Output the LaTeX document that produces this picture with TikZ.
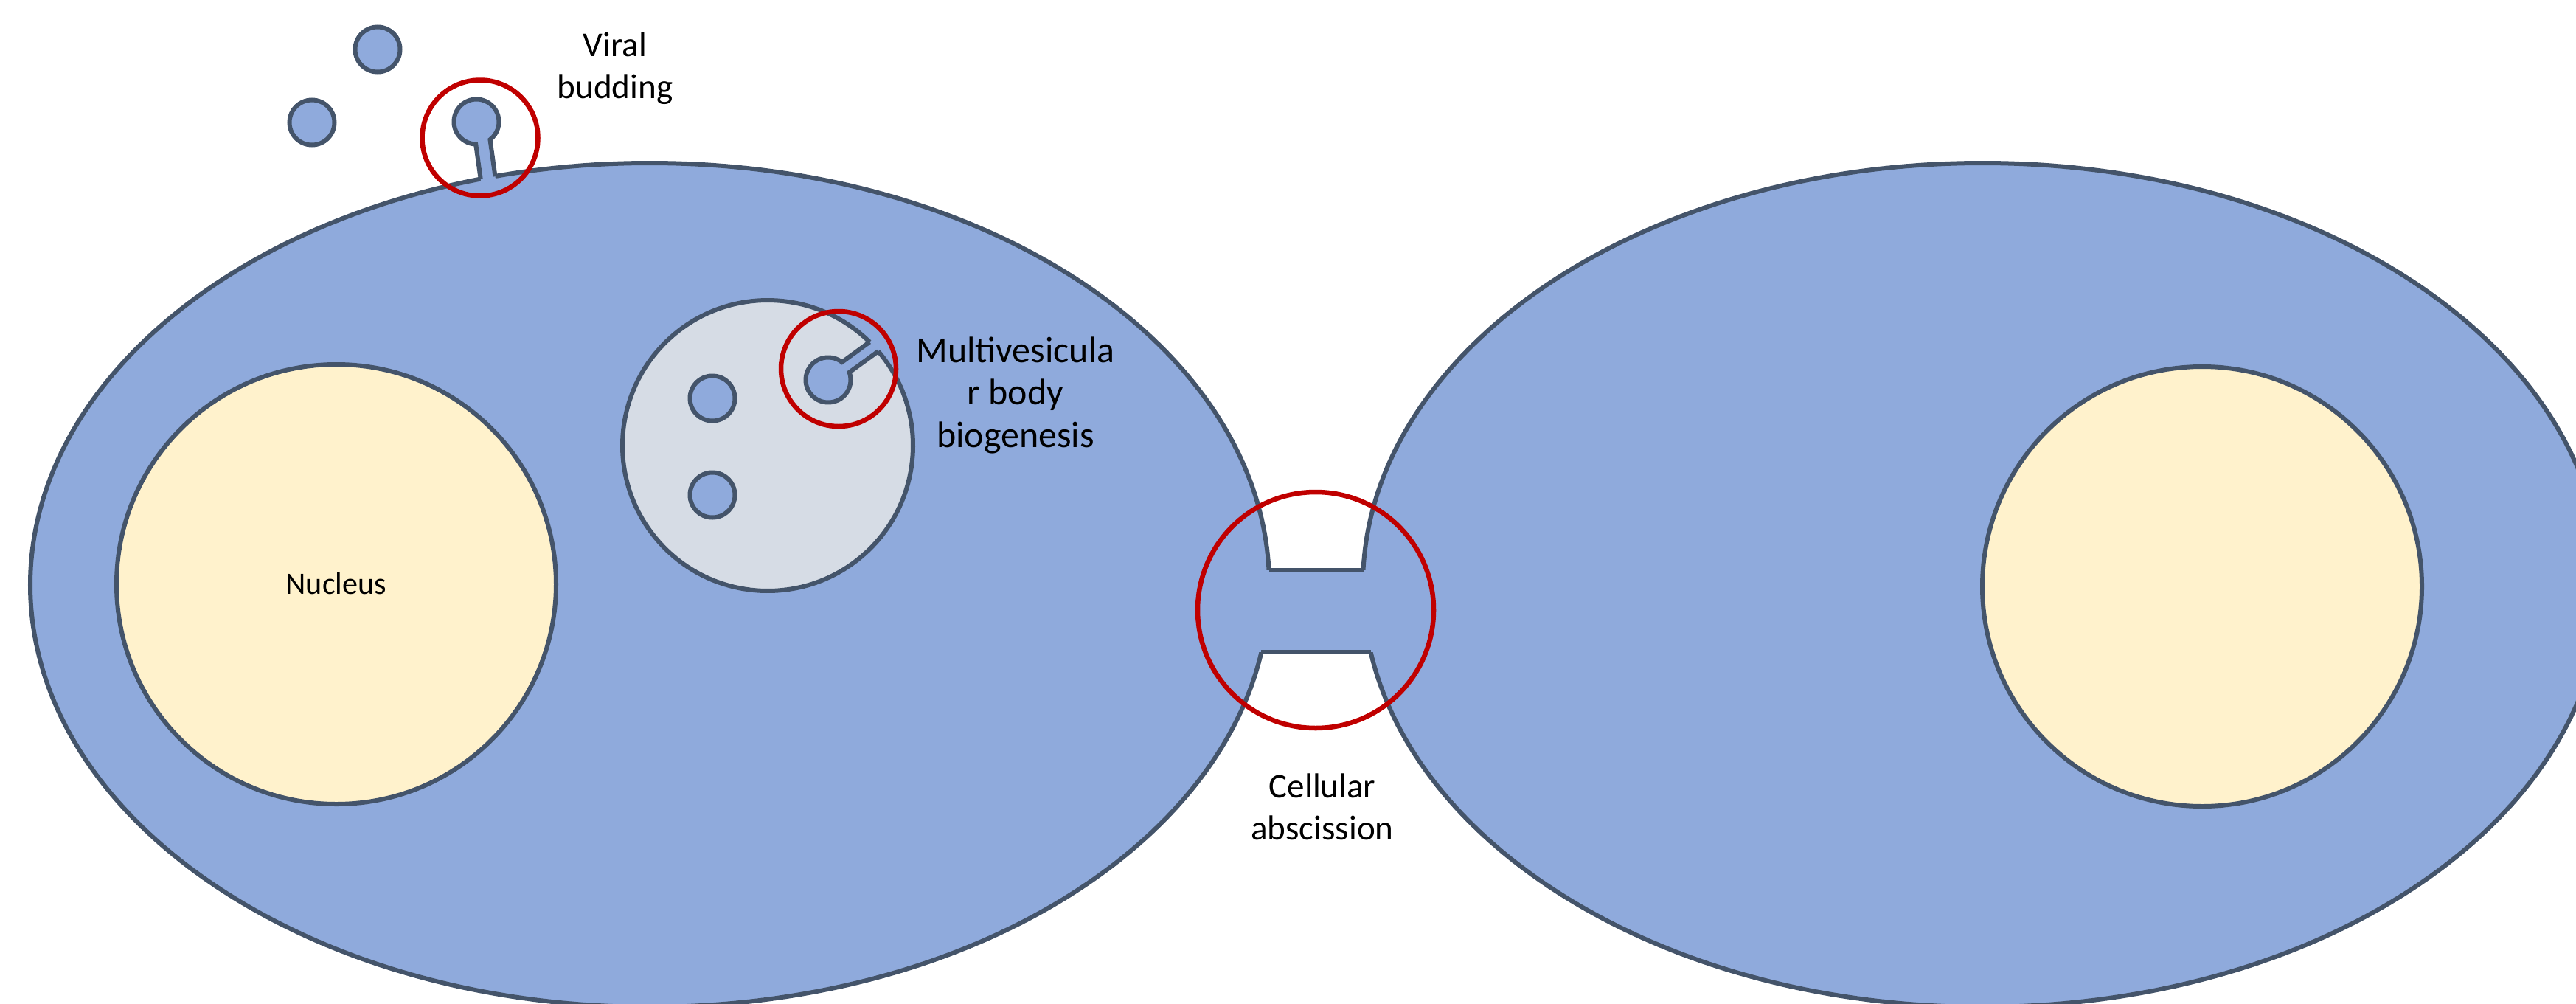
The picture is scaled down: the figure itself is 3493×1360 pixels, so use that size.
\documentclass[tikz,border=0pt]{standalone}
\usepackage{fontspec}
\setmainfont{Carlito}
\usetikzlibrary{calc}
\definecolor{cyto}{HTML}{8FAADC}
\definecolor{edge}{HTML}{44546A}
\definecolor{nucfill}{HTML}{FFF2CC}
\definecolor{mvbfill}{HTML}{D6DCE5}
\definecolor{hilite}{HTML}{C00000}
\begin{document}
\begin{tikzpicture}[x=0.01cm,y=-0.01cm,
  membrane/.style={draw=edge,line width=0.06cm},
  cell/.style={membrane,fill=cyto},
  nucleusbody/.style={membrane,fill=nucfill},
  vesicle/.style={membrane,fill=cyto},
  ring/.style={draw=hilite,line width=0.065cm},
  label/.style={font=\fontsize{13.4pt}{16pt}\selectfont,align=center,anchor=base,inner sep=0pt},
  bigLabel/.style={font=\fontsize{14.2pt}{16.3pt}\selectfont,align=center,anchor=base,inner sep=0pt}]
\clip (0,0) rectangle (3493,1360);

% two daughter cells
\path[cell] (881,793) ellipse [x radius=840, y radius=572];
\path[cell] (2688,793) ellipse [x radius=840, y radius=572];

% intercellular bridge
\fill[cyto] (1705,773) rectangle (1865,884);
\draw[membrane] (1720.5,773) -- (1848.5,773);
\draw[membrane] (1710.3,884) -- (1858.7,884);

% nuclei
\path[nucleusbody] (456,792) circle [radius=298];
\path[nucleusbody] (2986,795) circle [radius=298];
\node[font=\fontsize{12pt}{14pt}\selectfont,anchor=base,inner sep=0pt] (nuc) at (456,805) {Nucleus};

% multivesicular body
\coordinate (mvb) at (1041,604);
\fill[mvbfill] (mvb) circle [radius=197];
\fill[cyto] (1185.7,458.9) -- (1179.2,463.6) -- (1141.7,490.9)
  arc (-52.2:-379.8:30.5) -- (1190.9,476.2) -- (1197.4,471.5) -- cycle;
\draw[membrane] ($(mvb)+(-40.45:197)$) arc (-40.45:314.55:197);
\draw[membrane] (1179.2,463.6) -- (1141.7,490.9)
  arc (-52.2:-379.8:30.5) -- (1190.9,476.2);
\path[vesicle] (966,540) circle [radius=30.5];
\path[vesicle] (966,671) circle [radius=30.5];

% viruses
\path[vesicle] (512,67) circle [radius=30.5];
\path[vesicle] (423,166) circle [radius=30.5];
\fill[cyto] (653.1,252.4) -- (651.7,242.5) -- (645.2,195.5)
  arc (91.5:412.6:30.5) -- (671.5,239.2) -- (672.9,249.1) -- cycle;
\draw[membrane] (651.7,242.5) -- (645.2,195.5)
  arc (91.5:412.6:30.5) -- (671.5,239.2);

% highlighted events
\draw[ring] (651,187) circle [radius=78.5];
\draw[ring] (1137,500) circle [radius=78];
\draw[ring] (1784,827) circle [radius=160];

% labels (anchored on the baseline of their last line)
\node[label] (bud) at (834,133) {Viral\\budding};
\node[bigLabel] (mvbtext) at (1377,606) {Multivesicula\\r body\\biogenesis};
\node[label] (abs) at (1793,1138) {Cellular\\abscission};
\end{tikzpicture}
\end{document}
